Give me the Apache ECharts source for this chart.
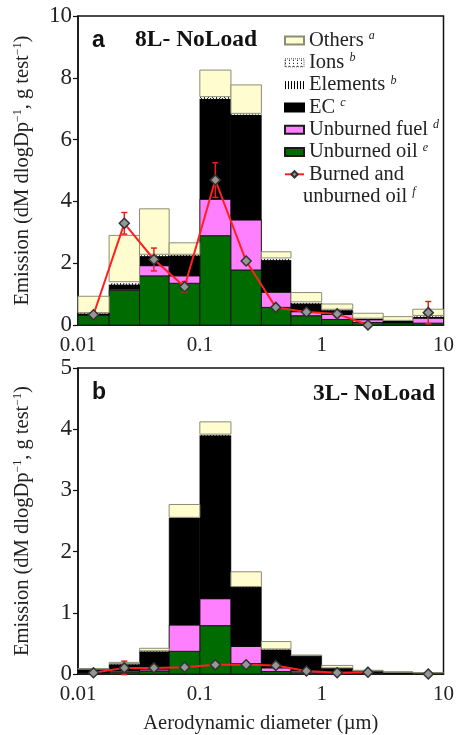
<!DOCTYPE html>
<html>
<head>
<meta charset="utf-8">
<script src="https://cdn.jsdelivr.net/npm/echarts@6/dist/echarts.min.js"></script>
<style>
html, body { margin: 0; padding: 0; background: #fff; }
#chart { width: 457px; height: 735px; }
</style>
</head>
<body>
<div id="chart"></div>
<script>
// Impactor stage cut points (µm) and geometric stage mid-points
const binEdges = [0.01, 0.018, 0.032, 0.056, 0.1, 0.18, 0.32, 0.56, 1.0, 1.8, 3.2, 5.6, 10];
const binMids = [0.0134, 0.024, 0.042, 0.075, 0.134, 0.24, 0.42, 0.75, 1.34, 2.4, 4.2, 7.5];
const xTickLabels = ['0.01', '0.1', '1', '10'];

// Panel a: 8L - NoLoad (layer thickness per stage)
const oilA    = [0.32, 1.12, 1.59, 1.35, 2.89, 1.78, 0.57, 0.30, 0.18, 0.08, 0.06, 0.06];
const fuelA   = [0.01, 0.04, 0.33, 0.24, 1.18, 1.62, 0.49, 0.13, 0.16, 0.09, 0.02, 0.16];
const ecA     = [0.04, 0.15, 0.31, 0.66, 3.25, 3.40, 1.04, 0.27, 0.14, 0.03, 0.05, 0.04];
const elemA   = [0.01, 0.04, 0.03, 0.02, 0.03, 0.02, 0.03, 0.02, 0.01, 0.01, 0.01, 0.02];
const ionsA   = [0.02, 0.05, 0.03, 0.02, 0.04, 0.03, 0.04, 0.03, 0.02, 0.01, 0.01, 0.03];
const othersA = [0.53, 1.50, 1.47, 0.37, 0.86, 0.92, 0.20, 0.30, 0.17, 0.16, 0.12, 0.20];
const totalOilA = [0.33, 3.29, 2.12, 1.24, 4.69, 2.07, 0.57, 0.42, 0.36, 0.0, null, 0.40];
const totalOilErrA = [0.04, 0.35, 0.37, 0.17, 0.56, 0.08, 0.04, 0.04, 0.04, 0.02, null, 0.36];

// Panel b: 3L - NoLoad
const oilB    = [0.01, 0.03, 0.05, 0.37, 0.79, 0.17, 0.04, 0.02, 0.01, 0.01, 0.005, 0.005];
const fuelB   = [0.01, 0.02, 0.03, 0.43, 0.44, 0.28, 0.06, 0.03, 0.02, 0.01, 0.005, 0.005];
const ecB     = [0.06, 0.11, 0.29, 1.75, 2.67, 0.97, 0.30, 0.25, 0.07, 0.03, 0.02, 0.01];
const elemB   = [0.0, 0.005, 0.005, 0.005, 0.01, 0.005, 0.005, 0.0, 0.0, 0.0, 0.0, 0.0];
const ionsB   = [0.0, 0.005, 0.005, 0.005, 0.01, 0.005, 0.005, 0.0, 0.0, 0.0, 0.0, 0.0];
const othersB = [0.01, 0.02, 0.04, 0.21, 0.20, 0.24, 0.12, 0.01, 0.04, 0.01, 0.005, 0.0];
const totalOilB = [0.02, 0.10, 0.10, 0.11, 0.15, 0.15, 0.14, 0.05, 0.02, 0.03, null, 0.0];
const totalOilErrB = [0.01, 0.11, 0.03, 0.03, 0.02, 0.02, 0.02, 0.01, 0.01, 0.01, null, 0.0];

const SERIF = 'Liberation Serif';

function makePattern(draw, w, h) {
  const c = document.createElement('canvas');
  c.width = w; c.height = h;
  const g = c.getContext('2d');
  g.fillStyle = '#fff';
  g.fillRect(0, 0, w, h);
  g.fillStyle = '#000';
  draw(g);
  return { image: c, repeat: 'repeat' };
}
const stripeFill = makePattern(g => g.fillRect(0, 0, 1, 3), 3, 3);
const dotFill = makePattern(g => g.fillRect(0, 1, 1, 1), 4, 3);

const layers = [
  { name: 'Unburned oil', a: oilA, b: oilB, style: { color: '#006b00', borderColor: '#1a1a1a', borderWidth: 1 } },
  { name: 'Unburned fuel', a: fuelA, b: fuelB, style: { color: '#ff80ff', borderColor: '#1a1a1a', borderWidth: 1 } },
  { name: 'EC', a: ecA, b: ecB, style: { color: '#000000', borderColor: '#000', borderWidth: 0.5 } },
  { name: 'Elements', a: elemA, b: elemB, style: { color: stripeFill } },
  { name: 'Ions', a: ionsA, b: ionsB, style: { color: dotFill } },
  { name: 'Others', a: othersA, b: othersB, style: { color: '#fffdd0', borderColor: '#8c8c74', borderWidth: 1 } }
];

function renderBin(params, api) {
  const p0 = api.coord([api.value(0), api.value(3)]);
  const p1 = api.coord([api.value(1), api.value(2)]);
  return {
    type: 'rect',
    shape: { x: p0[0], y: p0[1], width: p1[0] - p0[0], height: p1[1] - p0[1] },
    style: api.style()
  };
}

function renderErr(params, api) {
  const top = api.coord([api.value(0), api.value(2)]);
  const bot = api.coord([api.value(0), api.value(1)]);
  const w = 3;
  const s = { stroke: '#ee1c1c', lineWidth: 1.5 };
  return {
    type: 'group',
    children: [
      { type: 'line', shape: { x1: top[0], y1: top[1], x2: bot[0], y2: bot[1] }, style: s },
      { type: 'line', shape: { x1: top[0] - w, y1: top[1], x2: top[0] + w, y2: top[1] }, style: s },
      { type: 'line', shape: { x1: bot[0] - w, y1: bot[1], x2: bot[0] + w, y2: bot[1] }, style: s }
    ]
  };
}

function panelSeries(key, totals, errs, axisIndex) {
  const out = [];
  const base = binMids.map(() => 0);
  layers.forEach(layer => {
    const vals = layer[key];
    const data = vals.map((v, i) => {
      const item = [binEdges[i], binEdges[i + 1], base[i], base[i] + v];
      base[i] += v;
      return item;
    });
    out.push({
      name: layer.name,
      type: 'custom',
      xAxisIndex: axisIndex,
      yAxisIndex: axisIndex,
      renderItem: renderBin,
      encode: { x: [0, 1], y: [2, 3] },
      itemStyle: layer.style,
      data: data,
      z: 2
    });
  });
  out.push({
    name: 'Burned and unburned oil',
    type: 'line',
    xAxisIndex: axisIndex,
    yAxisIndex: axisIndex,
    data: totals.map((v, i) => [binMids[i], v == null ? '-' : v]),
    connectNulls: false,
    symbol: 'diamond',
    symbolSize: 10,
    showSymbol: true,
    lineStyle: { color: '#ff2020', width: 2 },
    itemStyle: { color: '#969696', borderColor: '#333', borderWidth: 1.5 },
    z: 5
  });
  const errData = [];
  totals.forEach((v, i) => {
    if (v != null && errs[i] > 0.05) errData.push([binMids[i], v - errs[i], v + errs[i]]);
  });
  out.push({
    name: 'Burned and unburned oil, s.d.',
    type: 'custom',
    xAxisIndex: axisIndex,
    yAxisIndex: axisIndex,
    renderItem: renderErr,
    encode: { x: 0, y: [1, 2] },
    data: errData,
    z: 4
  });
  return out;
}

const supRich = {
  sup: { fontFamily: SERIF, fontSize: 12, verticalAlign: 'top', lineHeight: 12, color: '#222' }
};
const yName = 'Emission (dM dlogDp{sup|−1}, g test{sup|−1})';

function xAxisCfg(idx, withName) {
  return {
    type: 'log',
    gridIndex: idx,
    logBase: 10,
    min: 0.01,
    max: 10,
    name: withName ? 'Aerodynamic diameter (µm)' : '',
    nameLocation: 'middle',
    nameGap: 39,
    nameTextStyle: { fontFamily: SERIF, fontSize: 20.5, color: '#222' },
    axisLine: { lineStyle: { color: '#111', width: 1.5 } },
    axisTick: { show: false },
    splitLine: { show: false },
    axisLabel: {
      fontFamily: SERIF, fontSize: 21, color: '#222', margin: 10,
      formatter: v => {
        const k = Math.round(Math.log10(v)) + 2;
        return xTickLabels[k] != null ? xTickLabels[k] : '';
      }
    }
  };
}

function yAxisCfg(idx, max, interval) {
  return {
    type: 'value',
    gridIndex: idx,
    min: 0,
    max: max,
    interval: interval,
    name: yName,
    nameLocation: 'middle',
    nameRotate: 90,
    nameGap: 44,
    nameTextStyle: { fontFamily: SERIF, fontSize: 20.5, color: '#222', lineHeight: 22, rich: supRich },
    axisLine: { show: true, lineStyle: { color: '#111', width: 1.5 } },
    axisTick: { show: true, inside: false, length: 5, lineStyle: { color: '#111', width: 1.2 } },
    splitLine: { show: false },
    axisLabel: { fontFamily: SERIF, fontSize: 23, color: '#222', margin: 6 }
  };
}

const legendRich = {
  s: { fontFamily: SERIF, fontSize: 12, fontStyle: 'italic', verticalAlign: 'top', lineHeight: 12, color: '#222' }
};
const legendText = {
  'Others': 'Others {s|a}',
  'Ions': 'Ions {s|b}',
  'Elements': 'Elements {s|b}',
  'EC': 'EC {s|c}',
  'Unburned fuel': 'Unburned fuel {s|d}',
  'Unburned oil': 'Unburned oil {s|e}',
  'Burned and unburned oil': 'Burned and'
};

const chart = echarts.init(document.getElementById('chart'), null, { renderer: 'canvas' });
chart.setOption({
  backgroundColor: '#fff',
  animation: false,
  grid: [
    { left: 78, right: 12, top: 16, height: 309, show: true, borderColor: '#111', borderWidth: 1.5, backgroundColor: 'transparent' },
    { left: 78, right: 12, top: 368, height: 310, show: true, borderColor: '#111', borderWidth: 1.5, backgroundColor: 'transparent' }
  ],
  xAxis: [xAxisCfg(0, false), xAxisCfg(1, true)],
  yAxis: [yAxisCfg(0, 10, 2), yAxisCfg(1, 5, 1)],
  legend: {
    orient: 'vertical',
    left: 279,
    top: 25,
    itemWidth: 19,
    itemHeight: 8,
    itemGap: 1.3,
    selectedMode: false,
    data: [
      { name: 'Others', icon: 'rect' },
      { name: 'Ions', icon: 'rect', itemStyle: { borderColor: '#555', borderWidth: 1, borderType: 'dotted' } },
      { name: 'Elements', icon: 'rect' },
      { name: 'EC', icon: 'rect' },
      { name: 'Unburned fuel', icon: 'rect' },
      { name: 'Unburned oil', icon: 'rect' },
      { name: 'Burned and unburned oil' }
    ],
    formatter: name => legendText[name],
    textStyle: { fontFamily: SERIF, fontSize: 20.5, color: '#222', lineHeight: 21, rich: legendRich }
  },
  graphic: [
    { type: 'text', left: 303, top: 186, z: 10,
      style: { text: 'unburned oil {s|f}', fontFamily: SERIF, fontSize: 20.5, fill: '#222', lineHeight: 21, rich: legendRich } },
    { type: 'text', x: 92, y: 41, z: 10,
      style: { text: 'a', font: 'bold 23px "Liberation Sans"', fill: '#111', verticalAlign: 'middle' } },
    { type: 'text', x: 135, y: 40, z: 10,
      style: { text: '8L- NoLoad', font: 'bold 23.5px "Liberation Serif"', fill: '#111', verticalAlign: 'middle' } },
    { type: 'text', x: 92, y: 393, z: 10,
      style: { text: 'b', font: 'bold 23px "Liberation Sans"', fill: '#111', verticalAlign: 'middle' } },
    { type: 'text', x: 435, y: 394, z: 10,
      style: { text: '3L- NoLoad', font: 'bold 23.5px "Liberation Serif"', fill: '#111', align: 'right', verticalAlign: 'middle' } }
  ],
  series: [].concat(
    panelSeries('a', totalOilA, totalOilErrA, 0),
    panelSeries('b', totalOilB, totalOilErrB, 1)
  )
});
</script>
</body>
</html>
